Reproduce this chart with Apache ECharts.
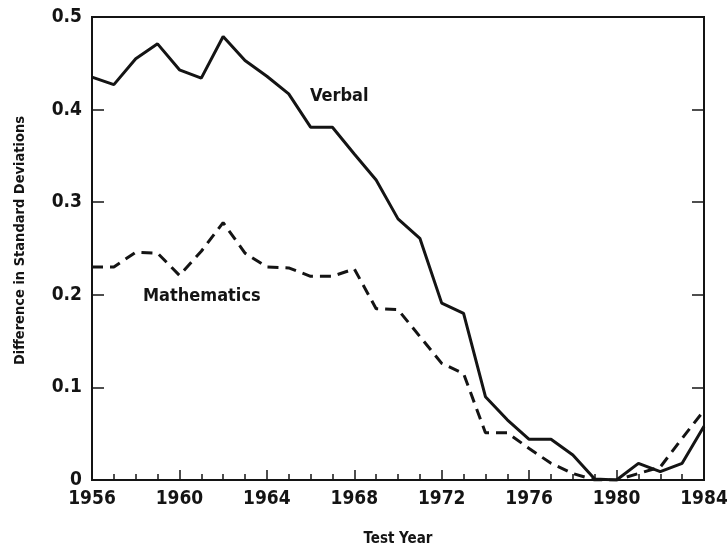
<!DOCTYPE html>
<html>
<head>
<meta charset="utf-8">
<script src="https://cdn.jsdelivr.net/npm/echarts@6/dist/echarts.min.js"></script>
<style>
  html, body { margin: 0; padding: 0; background: #fff; }
  #chart { width: 727px; height: 548px; }
</style>
</head>
<body>
<div id="chart"></div>
<script>
const years = [1956,1957,1958,1959,1960,1961,1962,1963,1964,1965,1966,1967,1968,1969,1970,1971,1972,1973,1974,1975,1976,1977,1978,1979,1980,1981,1982,1983,1984];
const verbal = [0.435,0.427,0.455,0.471,0.443,0.434,0.479,0.453,0.436,0.417,0.381,0.381,0.352,0.324,0.282,0.261,0.191,0.180,0.090,0.065,0.044,0.044,0.027,0.001,0.000,0.018,0.009,0.018,0.058];
const math = [0.230,0.230,0.246,0.245,0.221,0.247,0.278,0.245,0.230,0.229,0.220,0.220,0.228,0.185,0.184,0.155,0.126,0.115,0.051,0.051,0.034,0.018,0.007,0.000,0.000,0.007,0.014,0.045,0.075];
const yTicks = [0, 0.1, 0.2, 0.3, 0.4, 0.5];
const xLabels = ['1956','1960','1964','1968','1972','1976','1980','1984'];

const FONT = '"Liberation Sans Narrow", "DejaVu Sans Condensed", "Liberation Sans", sans-serif';
const INK = '#141414';

const chart = echarts.init(document.getElementById('chart'));
chart.setOption({
  animation: false,
  backgroundColor: '#fff',
  grid: { left: 92, right: 23, top: 17, bottom: 68, show: true, borderColor: INK, borderWidth: 2, backgroundColor: 'transparent', containLabel: false, outerBoundsMode: 'none' },
  xAxis: {
    type: 'value', min: 1956, max: 1984, interval: 4,
    name: 'Test Year', nameLocation: 'middle', nameGap: 52,
    nameTextStyle: { fontFamily: FONT, fontSize: 15, fontWeight: 'bold', color: INK, letterSpacing: 2.5 },
    axisLine: { lineStyle: { color: INK, width: 2 } },
    axisTick: { inside: true, length: 10, lineStyle: { color: INK, width: 1.5 } },
    minorTick: { show: true, splitNumber: 4, length: 6, lineStyle: { color: INK, width: 1.5 } },
    splitLine: { show: false },
    axisLabel: { fontFamily: FONT, fontSize: 19, fontWeight: 'bold', color: INK, margin: 10,
      formatter: v => xLabels.includes(String(v)) ? String(v) : '' }
  },
  yAxis: [{
    type: 'value', min: 0, max: 0.5, interval: 0.1,
    name: 'Difference in Standard Deviations', nameLocation: 'middle', nameGap: 64,
    nameTextStyle: { fontFamily: FONT, fontSize: 14.5, fontWeight: 'bold', color: INK, letterSpacing: 1.6, padding: [0, 0, 0, 16] },
    axisLine: { show: true, lineStyle: { color: INK, width: 2 } },
    axisTick: { show: true, inside: true, length: 12, lineStyle: { color: INK, width: 1.5 } },
    splitLine: { show: false },
    axisLabel: { fontFamily: FONT, fontSize: 19, fontWeight: 'bold', color: INK, margin: 10,
      formatter: v => { const t = yTicks.find(k => Math.abs(k - v) < 1e-9); return t === 0 ? '0' : t.toFixed(1); } }
  }, {
    type: 'value', min: 0, max: 0.5, interval: 0.1, position: 'right',
    axisLine: { show: true, lineStyle: { color: INK, width: 2 } },
    axisTick: { show: true, inside: true, length: 12, lineStyle: { color: INK, width: 1.5 } },
    axisLabel: { show: false }, splitLine: { show: false }
  }],
  series: [{
    type: 'line', name: 'Verbal', data: years.map((y, i) => [y, verbal[i]]),
    showSymbol: false, symbol: 'none', lineStyle: { color: INK, width: 3 }, z: 3
  }, {
    type: 'line', name: 'Mathematics', data: years.map((y, i) => [y, math[i]]),
    showSymbol: false, symbol: 'none', lineStyle: { color: INK, width: 3, type: [11, 7] }, z: 3
  }],
  graphic: [
    { type: 'text', left: 310, top: 87, style: { text: 'Verbal', font: 'bold 18px ' + FONT, fill: INK, letterSpacing: 2 } },
    { type: 'text', left: 143, top: 287, style: { text: 'Mathematics', font: 'bold 18px ' + FONT, fill: INK, letterSpacing: 1 } }
  ]
});
</script>
</body>
</html>
